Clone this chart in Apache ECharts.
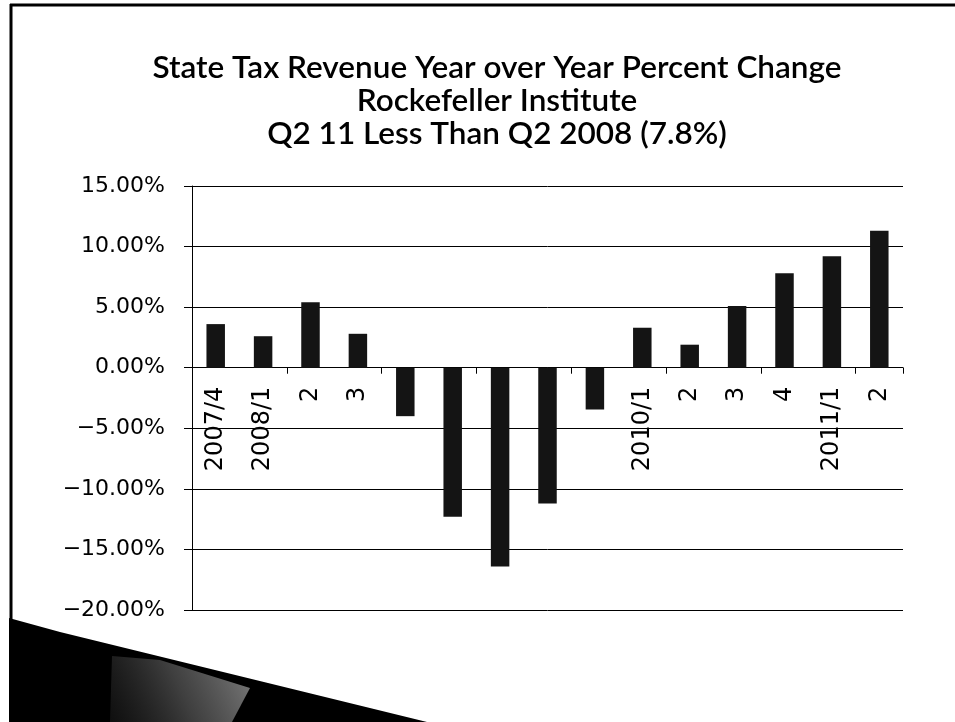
<!DOCTYPE html>
<html>
<head>
<meta charset="utf-8">
<script src="https://cdn.jsdelivr.net/npm/echarts@6/dist/echarts.min.js"></script>
<style>
html,body{margin:0;padding:0;background:#fff;}
#c{width:955px;height:722px;}
</style>
</head>
<body>
<div id="c"></div>
<script>
var categories = ['2007/4','2008/1','2','3','4','2009/1','2','3','4','2010/1','2','3','4','2011/1','2'];
var revenueChange = [3.6, 2.6, 5.4, 2.8, -4.0, -12.3, -16.4, -11.2, -3.45, 3.3, 1.9, 5.1, 7.8, 9.2, 11.3];
var titleLines = ['State Tax Revenue Year over Year Percent Change', 'Rockefeller Institute', 'Q2 11 Less Than Q2 2008 (7.8%)'];
var yMin = -20, yMax = 15, yStep = 5;

var gridTop = 186, gridBottom = 112, chartH = 722;
var plotH = chartH - gridTop - gridBottom;
var zeroOffset = -((0 - yMin) / (yMax - yMin)) * plotH;

var chart = echarts.init(document.getElementById('c'));
chart.setOption({
  backgroundColor: '#fff',
  animation: false,
  title: {
    text: titleLines.join('\n'),
    left: 492,
    top: 46,
    textAlign: 'center',
    textStyle: {
      fontFamily: 'Lato',
      fontSize: 31.5,
      fontWeight: 600,
      color: '#000',
      lineHeight: 33
    }
  },
  grid: { left: 192, right: 52, top: gridTop, bottom: gridBottom, containLabel: false },
  xAxis: [{
    type: 'category',
    data: categories,
    boundaryGap: true,
    axisLine: { show: true, onZero: true, lineStyle: { color: '#000', width: 1 } },
    axisTick: { show: true, length: 6, inside: false, lineStyle: { color: '#000' } },
    axisLabel: { show: false },
    splitLine: { show: false },
    z: 0
  }, {
    type: 'category',
    data: categories,
    position: 'bottom',
    offset: zeroOffset,
    boundaryGap: true,
    axisLine: { show: false, onZero: false },
    axisTick: { show: false },
    axisLabel: {
      rotate: 90,
      interval: 0,
      margin: 19,
      fontFamily: 'DejaVu Sans',
      fontSize: 24,
      color: '#000',
      formatter: function (value, index) {
        // labels under downward bars are covered by the bars in the original
        return revenueChange[index] < 0 ? '' : value;
      }
    },
    splitLine: { show: false },
    z: 0
  }],
  yAxis: {
    type: 'value',
    min: yMin,
    max: yMax,
    interval: yStep,
    axisLine: { show: true, lineStyle: { color: '#000', width: 1 } },
    axisTick: { show: true, length: 8, lineStyle: { color: '#000' } },
    axisLabel: {
      margin: 27,
      fontFamily: 'DejaVu Sans',
      fontSize: 22,
      color: '#000',
      formatter: function (v) { return (v < 0 ? '\u2212' : '') + Math.abs(v).toFixed(2) + '%'; }
    },
    splitLine: { show: true, lineStyle: { color: '#000', width: 1 } }
  },
  series: [{
    type: 'bar',
    xAxisIndex: 0,
    data: revenueChange,
    barWidth: '39%',
    itemStyle: { color: '#141414' },
    z: 2
  }],
  graphic: [
    { type: 'line', shape: { x1: 10, y1: 5, x2: 955, y2: 5 }, style: { stroke: '#000', lineWidth: 3 } },
    { type: 'line', shape: { x1: 11, y1: 4, x2: 11, y2: 625 }, style: { stroke: '#000', lineWidth: 3 } },
    { type: 'polygon', shape: { points: [[9, 618], [60, 632], [427, 722], [9, 722]] }, style: { fill: '#000' } },
    { type: 'polygon', shape: { points: [[112, 656], [160, 660], [250, 688], [232, 722], [110, 722]] },
      style: { fill: new echarts.graphic.LinearGradient(1, 0, 0, 1, [
        { offset: 0, color: 'rgba(180,180,180,0.7)' },
        { offset: 0.5, color: 'rgba(140,140,140,0.45)' },
        { offset: 1, color: 'rgba(60,60,60,0.25)' }
      ]) } }
  ]
});
</script>
</body>
</html>
